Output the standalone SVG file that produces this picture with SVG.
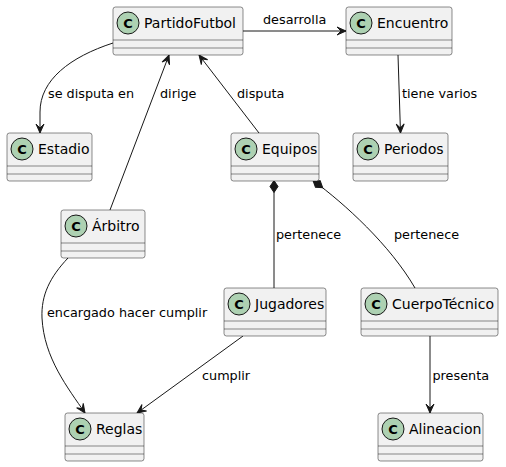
<svg xmlns="http://www.w3.org/2000/svg" width="506" height="467" viewBox="0 0 506 467">
<style>
.box{fill:#F1F1F1;stroke:#181818;stroke-width:0.5}
.sep{stroke:#181818;stroke-width:0.5}
.circ{fill:#ADD1B2;stroke:#181818;stroke-width:1}
.cl{font-family:"DejaVu Sans",sans-serif;font-size:13px;font-weight:bold;fill:#000;text-anchor:middle}
.nm{font-family:"DejaVu Sans",sans-serif;font-size:14px;fill:#000}
.lb{font-family:"DejaVu Sans",sans-serif;font-size:12.8px;fill:#000}
.ln{fill:none;stroke:#181818;stroke-width:1}
</style>
<defs>
<marker id="arr" markerUnits="userSpaceOnUse" markerWidth="12" markerHeight="10" viewBox="-10 -5 12 10" refX="0" refY="0" orient="auto">
<path d="M0,0 L-9,-4 L-5,0 L-9,4 Z" fill="#181818" stroke="#181818" stroke-width="1"/>
</marker>
<marker id="dia" markerUnits="userSpaceOnUse" markerWidth="14" markerHeight="10" viewBox="-1 -5 14 10" refX="0" refY="0" orient="auto">
<path d="M0,0 L6,-4 L12,0 L6,4 Z" fill="#181818" stroke="#181818" stroke-width="1"/>
</marker>
</defs>

<g id="connectors">
<path class="ln" d="M243,31 L346,31" marker-end="url(#arr)"/>
<text class="lb" x="263" y="24">desarrolla</text>
<path class="ln" d="M113,43 C70,57 40,80 40,112 L40,133" marker-end="url(#arr)"/>
<text class="lb" x="48" y="98">se disputa en</text>
<path class="ln" d="M110,210 L169,55" marker-end="url(#arr)"/>
<text class="lb" x="160" y="98">dirige</text>
<path class="ln" d="M259,133 L199,55" marker-end="url(#arr)"/>
<text class="lb" x="237" y="98">disputa</text>
<path class="ln" d="M398,55 L400.5,133" marker-end="url(#arr)"/>
<text class="lb" x="402" y="98">tiene varios</text>
<path class="ln" d="M274,180.5 L274,288" marker-start="url(#dia)"/>
<text class="lb" x="276" y="239">pertenece</text>
<path class="ln" d="M313,180.5 C345,204 390,245 415,288" marker-start="url(#dia)"/>
<text class="lb" x="394" y="239">pertenece</text>
<path class="ln" d="M68,258 C50,277 41,295 42,318 C44,358 68,388 85,413" marker-end="url(#arr)"/>
<text class="lb" x="47" y="317">encargado hacer cumplir</text>
<path class="ln" d="M243,336 L137,413" marker-end="url(#arr)"/>
<text class="lb" x="202" y="380">cumplir</text>
<path class="ln" d="M430,336 L430,413" marker-end="url(#arr)"/>
<text class="lb" x="432.5" y="380">presenta</text>
</g>

<g id="PartidoFutbol">
<rect class="box" x="113" y="7" width="130" height="48" rx="2.5"/>
<line class="sep" x1="113" y1="40" x2="243" y2="40"/>
<line class="sep" x1="113" y1="48" x2="243" y2="48"/>
<circle class="circ" cx="128" cy="23" r="11"/>
<text class="cl" x="128" y="28">C</text>
<text class="nm" x="144" y="28">PartidoFutbol</text>
</g>
<g id="Encuentro">
<rect class="box" x="346" y="7" width="106" height="48" rx="2.5"/>
<line class="sep" x1="346" y1="40" x2="452" y2="40"/>
<line class="sep" x1="346" y1="48" x2="452" y2="48"/>
<circle class="circ" cx="361" cy="23" r="11"/>
<text class="cl" x="361" y="28">C</text>
<text class="nm" x="377" y="28">Encuentro</text>
</g>
<g id="Estadio">
<rect class="box" x="7" y="133" width="85" height="48" rx="2.5"/>
<line class="sep" x1="7" y1="166" x2="92" y2="166"/>
<line class="sep" x1="7" y1="174" x2="92" y2="174"/>
<circle class="circ" cx="22" cy="149" r="11"/>
<text class="cl" x="22" y="154">C</text>
<text class="nm" x="38" y="154">Estadio</text>
</g>
<g id="Equipos">
<rect class="box" x="231" y="133" width="88" height="48" rx="2.5"/>
<line class="sep" x1="231" y1="166" x2="319" y2="166"/>
<line class="sep" x1="231" y1="174" x2="319" y2="174"/>
<circle class="circ" cx="246" cy="149" r="11"/>
<text class="cl" x="246" y="154">C</text>
<text class="nm" x="262" y="154">Equipos</text>
</g>
<g id="Periodos">
<rect class="box" x="353" y="133" width="95" height="48" rx="2.5"/>
<line class="sep" x1="353" y1="166" x2="448" y2="166"/>
<line class="sep" x1="353" y1="174" x2="448" y2="174"/>
<circle class="circ" cx="368" cy="149" r="11"/>
<text class="cl" x="368" y="154">C</text>
<text class="nm" x="384" y="154">Periodos</text>
</g>
<g id="Arbitro">
<rect class="box" x="61" y="210" width="84" height="48" rx="2.5"/>
<line class="sep" x1="61" y1="243" x2="145" y2="243"/>
<line class="sep" x1="61" y1="251" x2="145" y2="251"/>
<circle class="circ" cx="76" cy="226" r="11"/>
<text class="cl" x="76" y="231">C</text>
<text class="nm" x="92" y="231">Árbitro</text>
</g>
<g id="Jugadores">
<rect class="box" x="224" y="288" width="102" height="48" rx="2.5"/>
<line class="sep" x1="224" y1="321" x2="326" y2="321"/>
<line class="sep" x1="224" y1="329" x2="326" y2="329"/>
<circle class="circ" cx="239" cy="304" r="11"/>
<text class="cl" x="239" y="309">C</text>
<text class="nm" x="255" y="309">Jugadores</text>
</g>
<g id="CuerpoTecnico">
<rect class="box" x="361" y="288" width="137" height="48" rx="2.5"/>
<line class="sep" x1="361" y1="321" x2="498" y2="321"/>
<line class="sep" x1="361" y1="329" x2="498" y2="329"/>
<circle class="circ" cx="376" cy="304" r="11"/>
<text class="cl" x="376" y="309">C</text>
<text class="nm" x="392" y="309">CuerpoTécnico</text>
</g>
<g id="Reglas">
<rect class="box" x="65" y="413" width="79" height="48" rx="2.5"/>
<line class="sep" x1="65" y1="446" x2="144" y2="446"/>
<line class="sep" x1="65" y1="454" x2="144" y2="454"/>
<circle class="circ" cx="80" cy="429" r="11"/>
<text class="cl" x="80" y="434">C</text>
<text class="nm" x="96" y="434">Reglas</text>
</g>
<g id="Alineacion">
<rect class="box" x="378" y="413" width="105" height="48" rx="2.5"/>
<line class="sep" x1="378" y1="446" x2="483" y2="446"/>
<line class="sep" x1="378" y1="454" x2="483" y2="454"/>
<circle class="circ" cx="393" cy="429" r="11"/>
<text class="cl" x="393" y="434">C</text>
<text class="nm" x="409" y="434">Alineacion</text>
</g>
</svg>
